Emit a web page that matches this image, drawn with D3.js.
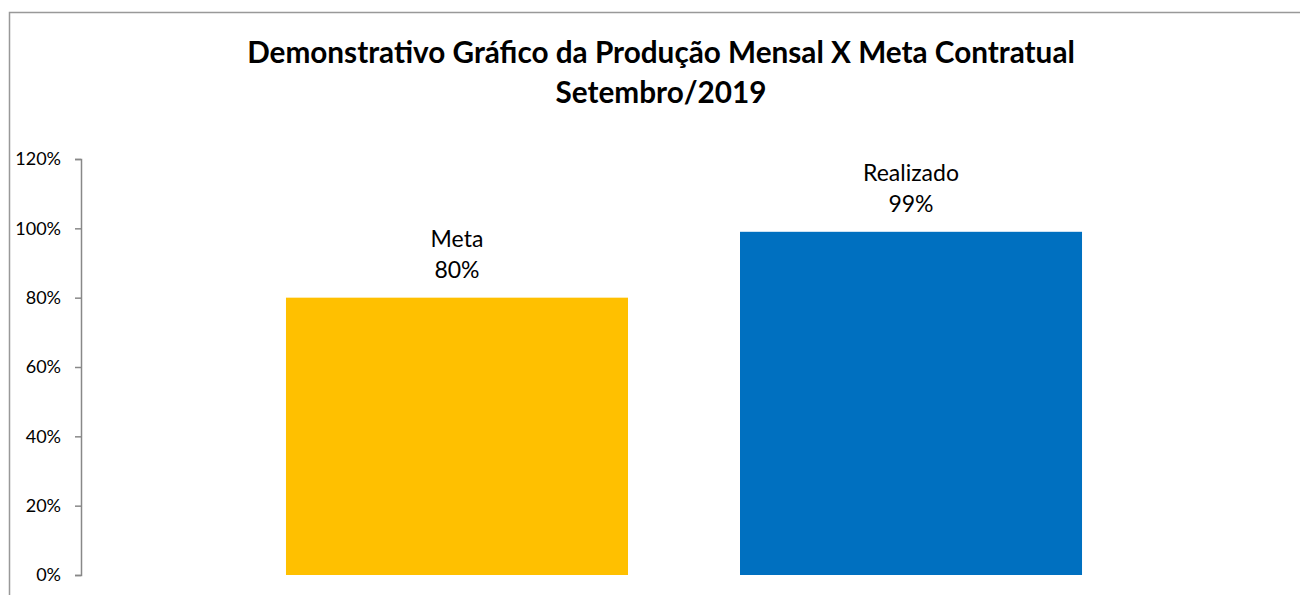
<!DOCTYPE html>
<html>
<head>
<meta charset="utf-8">
<script src="https://cdn.jsdelivr.net/npm/d3@7"></script>
<style>
  body { margin: 0; background: #fff; }
  svg text { font-family: Lato, "Open Sans", sans-serif; fill: #000; }
</style>
</head>
<body>
<div id="chart"></div>
<script>
const categories = ['Meta', 'Realizado'];
const values = [0.80, 0.99];
const colors = ['#FFC000', '#0070C0'];
const yTicks = [0, 0.2, 0.4, 0.6, 0.8, 1.0, 1.2];
const titleLines = ['Demonstrativo Gráfico da Produção Mensal X Meta Contratual', 'Setembro/2019'];

const chartWidth = 1300;
const chartHeight = 595;

const svg = d3.select('#chart')
    .append('svg')
    .attr('width', chartWidth)
    .attr('height', chartHeight);

// outer frame (right and bottom edges fall outside the picture)
svg.append('rect')
    .attr('x', 9.5)
    .attr('y', 12.5)
    .attr('width', 1400)
    .attr('height', 700)
    .attr('fill', 'none')
    .attr('stroke', '#999')
    .attr('stroke-width', 1.5);

const xScale = d3.scaleBand()
    .domain(categories)
    .range([230, 1138])
    .paddingInner(0.2467)
    .paddingOuter(0.1233);

const yScale = d3.scaleLinear()
    .domain([0, 1.2])
    .range([575, 159]);

const yAxis = d3.axisLeft(yScale)
    .tickValues(yTicks)
    .tickSize(6)
    .tickPadding(14)
    .tickFormat(d3.format('.0%'));

const axisG = svg.append('g')
    .attr('transform', 'translate(81,0)')
    .call(yAxis);
axisG.select('.domain').attr('stroke', '#888').attr('stroke-width', 1.5);
axisG.selectAll('.tick line').attr('stroke', '#888').attr('stroke-width', 1.5);
axisG.selectAll('.tick text')
    .attr('font-size', 18)
    .attr('font-family', 'Lato, sans-serif')
    .attr('fill', '#000');

svg.append('g')
    .selectAll('rect')
    .data(categories)
    .enter()
    .append('rect')
    .attr('x', d => xScale(d))
    .attr('y', (d, i) => yScale(values[i]))
    .attr('width', xScale.bandwidth())
    .attr('height', (d, i) => yScale(0) - yScale(values[i]))
    .attr('fill', (d, i) => colors[i]);

// data labels: category name and value above each bar
const labels = svg.append('g')
    .selectAll('text')
    .data(categories)
    .enter()
    .append('text')
    .attr('text-anchor', 'middle')
    .attr('font-size', 23)
    .attr('x', d => xScale(d) + xScale.bandwidth() / 2)
    .attr('y', (d, i) => yScale(values[i]) - 51);

labels.append('tspan').text(d => d);
labels.append('tspan')
    .attr('x', d => xScale(d) + xScale.bandwidth() / 2)
    .attr('dy', 31)
    .text((d, i) => d3.format('.0%')(values[i]));

const title = svg.append('g')
    .selectAll('text')
    .data(titleLines)
    .enter()
    .append('text')
    .attr('text-anchor', 'middle')
    .attr('font-weight', 'bold')
    .attr('font-size', 26)
    .attr('x', 661)
    .attr('y', (d, i) => 63 + i * 40)
    .text(d => d);

// fit the first title line to the reference width
const w = title.node().getComputedTextLength();
title.attr('font-size', 26 * 828 / w);
</script>
</body>
</html>
